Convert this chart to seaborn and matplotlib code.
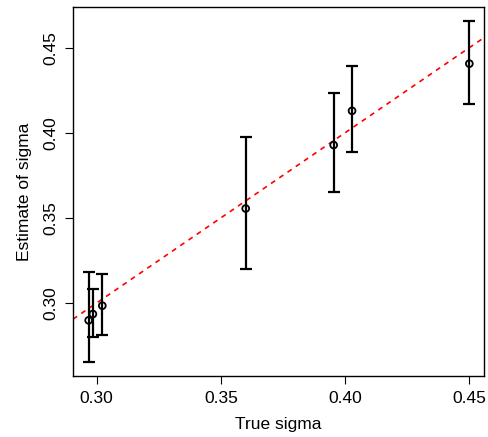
import matplotlib
matplotlib.use("Agg")
import matplotlib.pyplot as plt
import seaborn as sns
import pandas as pd
import numpy as np

true_sigma = [0.2968, 0.2985, 0.3023, 0.3600, 0.3954, 0.4028, 0.4500]
estimate = [0.2898, 0.2935, 0.2984, 0.3555, 0.3928, 0.4129, 0.4406]
lower = [0.2651, 0.2800, 0.2812, 0.3202, 0.3653, 0.3888, 0.4171]
upper = [0.3182, 0.3081, 0.3169, 0.3975, 0.4235, 0.4394, 0.4659]
xticks = [0.30, 0.35, 0.40, 0.45]
yticks = [0.30, 0.35, 0.40, 0.45]

df = pd.DataFrame({"true": true_sigma, "est": estimate, "lo": lower, "hi": upper})

sns.set_theme(style="ticks")
plt.rcParams["font.family"] = ["Liberation Sans", "DejaVu Sans"]
plt.rcParams["text.color"] = "black"
plt.rcParams["axes.labelcolor"] = "black"
plt.rcParams["xtick.color"] = "black"
plt.rcParams["ytick.color"] = "black"

fig = plt.figure(figsize=(4.88, 4.37), dpi=100)
ax = fig.add_axes([73/488, (437-376)/437, (484-73)/488, (376-7)/437])

xlim = (0.2905, 0.4559)
ylim = (0.2571, 0.4739)

# identity line
ax.plot(xlim, xlim, color="red", linestyle=(0, (3, 3)), linewidth=1.2, zorder=1)

yerr = np.array([df["est"] - df["lo"], df["hi"] - df["est"]])
ax.errorbar(df["true"], df["est"], yerr=yerr, fmt="none", ecolor="black",
            elinewidth=1.6, capsize=4.4, capthick=1.6, zorder=2)
sns.scatterplot(data=df, x="true", y="est", ax=ax, marker="o", s=24,
                facecolor="none", edgecolor="black", linewidth=1.3, zorder=3)

ax.set_xlim(*xlim)
ax.set_ylim(*ylim)
ax.set_xticks(xticks)
ax.set_xticklabels([f"{t:.2f}" for t in xticks])
ax.set_yticks(yticks)
ax.set_yticklabels([f"{t:.2f}" for t in yticks], rotation=90, va="center")
ax.tick_params(axis="both", length=5.5, width=0.8, labelsize=12.5, pad=5, color="black")
ax.set_xlabel("True sigma", fontsize=12.5, labelpad=8)
ax.set_ylabel("Estimate of sigma", fontsize=12.5, labelpad=8)
for s in ax.spines.values():
    s.set_visible(True)
    s.set_linewidth(1.0)
    s.set_color("black")

fig.savefig("out.png", dpi=100)
